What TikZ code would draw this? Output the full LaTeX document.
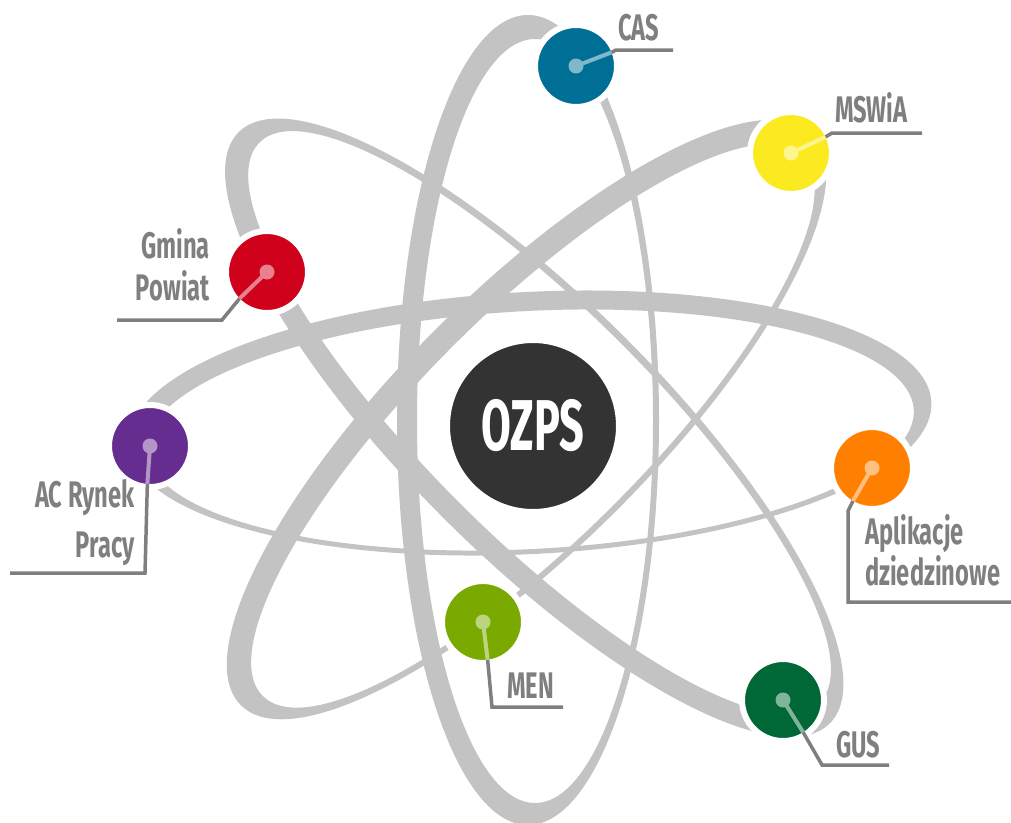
\documentclass[tikz,border=0pt]{standalone}
\usepackage{fontspec}
\setmainfont{Fira Sans}
\newfontfamily\labfont{Fira Sans}[FakeStretch=0.64]
\newfontfamily\ozpsfont{Fira Sans}[FakeStretch=0.6]
\definecolor{orbitgray}{RGB}{195,195,195}
\definecolor{labgray}{RGB}{127,127,127}
\definecolor{cascol}{RGB}{0,111,150}
\definecolor{mswcol}{RGB}{252,234,33}
\definecolor{gmicol}{RGB}{208,2,27}
\definecolor{accol}{RGB}{102,45,145}
\definecolor{aplcol}{RGB}{255,128,0}
\definecolor{mencol}{RGB}{122,170,0}
\definecolor{guscol}{RGB}{0,104,55}
\definecolor{ozpscol}{RGB}{51,51,51}
\begin{document}
\begin{tikzpicture}[x=1pt,y=-1pt,
  orbit/.style={fill=orbitgray, even odd rule},
  planet/.style={circle, minimum size=82pt, inner sep=0pt, outer sep=-3pt, draw=white, line width=6pt},
  lite/.style={line width=4pt},
  lead/.style={draw=labgray, line width=3.5pt},
  lab/.style={inner sep=0pt, text=labgray, font=\labfont\bfseries\fontsize{37}{40}\selectfont}]
\useasboundingbox (0,0) rectangle (1011,822);
% orbits
\fill[orbit] (528,420) ellipse [x radius=131pt, y radius=405pt] (535,421) ellipse [x radius=118pt, y radius=382pt];
\begin{scope}[shift={(530,425)}, rotate=3]
\fill[orbit] (0,-2) ellipse [x radius=402pt, y radius=131pt] (0,5) ellipse [x radius=384pt, y radius=119pt];
\end{scope}
\begin{scope}[shift={(530,432)}, rotate=-45]
\fill[orbit] (0,-6) ellipse [x radius=418pt, y radius=128pt] (0,-13.5) ellipse [x radius=396pt, y radius=113.5pt];
\end{scope}
\begin{scope}[shift={(535,428)}, rotate=45]
\fill[orbit] (0,-12) ellipse [x radius=404pt, y radius=128pt] (0,-3) ellipse [x radius=382pt, y radius=113pt];
\end{scope}
% centre
\node[circle, minimum size=174pt, inner sep=0pt, fill=ozpscol, draw=white, line width=8pt, text=white,
  font=\ozpsfont\bfseries\fontsize{72}{72}\selectfont] (ozps) at (533,426) {OZPS};
% planets
\node[planet, fill=cascol] (cas) at (576,66) {};
\node[planet, fill=mswcol] (msw) at (791,153) {};
\node[planet, fill=gmicol] (gmi) at (267,272) {};
\node[planet, fill=accol] (ac) at (150,446) {};
\node[planet, fill=aplcol] (apl) at (872,468) {};
\node[planet, fill=mencol] (men) at (483,622) {};
\node[planet, fill=guscol] (gus) at (783,700) {};
% labels
\node[lab, anchor=base west] (caslab) at (618,40) {CAS};
\node[lab, anchor=base west] (mswlab) at (835,122) {MSWiA};
\node[lab, anchor=base east] (gmilab) at (210,258) {Gmina};
\node[lab, anchor=base east] (powlab) at (210,300) {Powiat};
\node[lab, anchor=base east] (aclab) at (135,507) {AC Rynek};
\node[lab, anchor=base east] (prlab) at (135,557) {Pracy};
\node[lab, anchor=base west] (apllab) at (865,544) {Aplikacje};
\node[lab, anchor=base west] (dzlab) at (865,585) {dziedzinowe};
\node[lab, anchor=base west] (menlab) at (507,698) {MEN};
\node[lab, anchor=base west] (guslab) at (836,757) {GUS};
% leader coordinates
\coordinate (casA) at (616,50); \coordinate (casB) at (673,50);
\coordinate (mswA) at (832,133); \coordinate (mswB) at (922,133);
\coordinate (gmiA) at (222,320); \coordinate (gmiB) at (117,320);
\coordinate (acA) at (145,573); \coordinate (acB) at (10,573);
\coordinate (aplA) at (848,511); \coordinate (aplB) at (848,602); \coordinate (aplC) at (1011,602);
\coordinate (menA) at (492,707); \coordinate (menB) at (563,707);
\coordinate (gusA) at (822,765); \coordinate (gusB) at (889,765);
% gray leaders
\draw[lead] (cas.21) -- (casA) -- (casB);
\draw[lead] (msw.25) -- (mswA) -- (mswB);
\draw[lead] (gmi.224) -- (gmiA) -- (gmiB);
\draw[lead] (ac.266) -- (acA) -- (acB);
\draw[lead] (apl.240) -- (aplA) -- (aplB) -- (aplC);
\draw[lead] (men.277) -- (menA) -- (menB);
\draw[lead] (gus.302) -- (gusA) -- (gusB);
% light inner lines and dots
\draw[lite, draw=cascol!50!white] (cas.center) -- (cas.21);
\fill[cascol!50!white] (cas.center) circle (7.5pt);
\draw[lite, draw=mswcol!50!white] (msw.center) -- (msw.25);
\fill[mswcol!50!white] (msw.center) circle (7.5pt);
\draw[lite, draw=gmicol!50!white] (gmi.center) -- (gmi.224);
\fill[gmicol!50!white] (gmi.center) circle (7.5pt);
\draw[lite, draw=accol!50!white] (ac.center) -- (ac.266);
\fill[accol!50!white] (ac.center) circle (7.5pt);
\draw[lite, draw=aplcol!50!white] (apl.center) -- (apl.240);
\fill[aplcol!50!white] (apl.center) circle (7.5pt);
\draw[lite, draw=mencol!50!white] (men.center) -- (men.277);
\fill[mencol!50!white] (men.center) circle (7.5pt);
\draw[lite, draw=guscol!50!white] (gus.center) -- (gus.302);
\fill[guscol!50!white] (gus.center) circle (7.5pt);
\end{tikzpicture}
\end{document}
